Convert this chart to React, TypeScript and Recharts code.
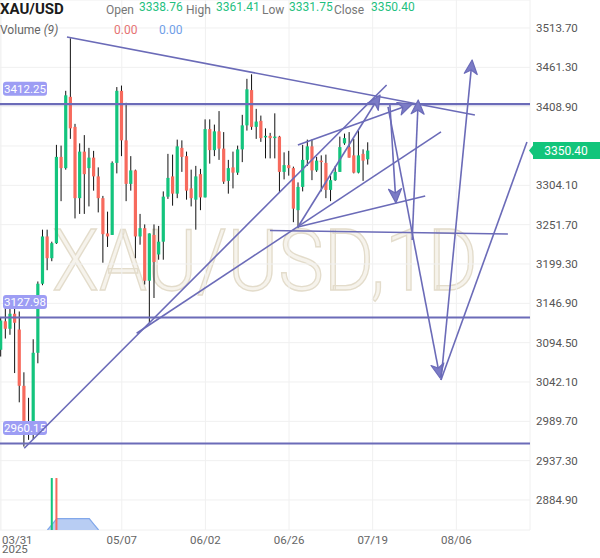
import React from "react";
import { ComposedChart, Bar, Area, XAxis, YAxis, CartesianGrid, ReferenceLine } from "recharts";

const UP = "#13C47D";
const DOWN = "#F76A5D";
const DRAW = "#6B6BB8";
const FONT = "Roboto, 'Open Sans', sans-serif";

// daily candles, 03/31 .. 07/18 (one extra weekend bar before 07/14)
const open = [
  3085, 3123, 3113, 3133, 3112, 3037, 2985, 2985, 3081, 3173,
  3236, 3207, 3227, 3342, 3327, 3422, 3382, 3287, 3349, 3327,
  3341, 3316, 3287, 3240, 3238, 3334, 3430, 3364, 3306, 3324,
  3236, 3247, 3177, 3238, 3212, 3229, 3289, 3316, 3293, 3354,
  3343, 3300, 3285, 3319, 3288, 3379, 3351, 3376, 3353, 3310,
  3328, 3321, 3352, 3384, 3431, 3382, 3390, 3368, 3370, 3367,
  3369, 3322, 3331, 3327, 3271, 3302, 3338, 3356, 3324, 3337,
  3334, 3298, 3311, 3322, 3360, 3355, 3344, 3321, 3346, 3338.76,
];
const high = [
  3128, 3149, 3148, 3142, 3136, 3055, 3021, 3099, 3176, 3245,
  3245, 3229, 3358, 3357, 3430, 3500, 3386, 3360, 3371, 3354,
  3350, 3328, 3290, 3269, 3336, 3435, 3437, 3414, 3343, 3325,
  3266, 3252, 3240, 3252, 3250, 3296, 3346, 3345, 3365, 3364,
  3349, 3325, 3330, 3326, 3392, 3392, 3385, 3403, 3375, 3338,
  3349, 3357, 3398, 3446, 3452, 3406, 3397, 3380, 3374, 3400,
  3370, 3348, 3350, 3329, 3308, 3358, 3365, 3365, 3342, 3344,
  3345, 3317, 3330, 3369, 3373, 3375, 3366, 3377, 3352, 3361.41,
];
const low = [
  3076, 3100, 3105, 3054, 3015, 2956, 2965, 2966, 3067, 3171,
  3191, 3203, 3226, 3283, 3325, 3366, 3260, 3266, 3266, 3276,
  3297, 3268, 3201, 3222, 3238, 3320, 3343, 3283, 3297, 3207,
  3225, 3172, 3121, 3154, 3205, 3205, 3286, 3277, 3287, 3322,
  3285, 3276, 3245, 3271, 3288, 3333, 3343, 3338, 3306, 3293,
  3300, 3318, 3335, 3377, 3378, 3366, 3362, 3340, 3340, 3340,
  3295, 3312, 3317, 3255, 3247, 3296, 3330, 3311, 3322, 3296,
  3287, 3283, 3310, 3322, 3358, 3341, 3320, 3320, 3310, 3331.75,
];
const close = [
  3124, 3113, 3133, 3121, 3037, 2985, 2982, 3081, 3173, 3236,
  3207, 3227, 3342, 3327, 3424, 3380, 3287, 3349, 3319, 3341,
  3316, 3287, 3239, 3236, 3334, 3430, 3364, 3306, 3324, 3236,
  3247, 3177, 3240, 3202, 3229, 3289, 3314, 3293, 3356, 3342,
  3297, 3287, 3316, 3288, 3379, 3351, 3376, 3353, 3309, 3327,
  3321, 3352, 3384, 3432, 3382, 3389, 3367, 3370, 3367, 3369,
  3322, 3331, 3327, 3273, 3302, 3338, 3356, 3324, 3337, 3335,
  3298, 3311, 3322, 3355, 3367, 3341, 3321, 3344, 3337, 3350.4,
];

const volumeIndex = [11, 12];
const volumeValue = [1, 1];
const volumeUp = [true, false];
const volumeMaIndex = [10, 11, 12, 13, 14, 15, 16, 17, 18, 19, 20, 21];
const volumeMaValue = [0, 0.11, 0.22, 0.22, 0.22, 0.22, 0.22, 0.22, 0.22, 0.22, 0.11, 0];

const priceTicks = [2884.9, 2937.3, 2989.7, 3042.1, 3094.5, 3146.9, 3199.3, 3251.7, 3304.1, 3356.5, 3408.9, 3461.3, 3513.7];
const dateTickIndex = [0, 26, 44, 62, 80, 98];
const dateTickLabels = ["03/31", "05/07", "06/02", "06/26", "07/19", "08/06"];

const levels = [3412.25, 3127.98, 2960.15];

// drawings: [index1, price1, index2, price2, arrowhead]
const drawings: [number, number, number, number, boolean][] = [
  [14.2, 3501.7, 102.0, 3397.8, false],
  [5.0, 2953.8, 83.0, 3437.8, false],
  [29.2, 3107.0, 94.7, 3375.2, false],
  [57.9, 3243.9, 109.1, 3239.3, false],
  [63.9, 3248.6, 81.6, 3424.4, true],
  [63.9, 3357.8, 88.5, 3412.5, true],
  [63.9, 3248.6, 91.3, 3289.9, false],
  [83.7, 3411.1, 85.0, 3280.6, true],
  [88.5, 3231.3, 89.8, 3417.8, true],
  [83.3, 3408.5, 94.5, 3047.4, true],
  [94.7, 3044.7, 101.4, 3471.1, true],
  [94.7, 3044.7, 113.2, 3361.8, false],
];

const X_DOMAIN: [number, number] = [-0.215, 113.86];
const Y_DOMAIN: [number, number] = [2844.9, 3551.0];
const PLOT_H = 530;
const priceY = (p: number) => ((Y_DOMAIN[1] - p) / (Y_DOMAIN[1] - Y_DOMAIN[0])) * PLOT_H;

const rows = open.map((o, i) => {
  const vi = volumeIndex.indexOf(i);
  const mi = volumeMaIndex.indexOf(i);
  return {
    i,
    o,
    h: high[i],
    l: low[i],
    c: close[i],
    range: [low[i], high[i]],
    vol: vi >= 0 ? volumeValue[vi] : undefined,
    volUp: vi >= 0 ? volumeUp[vi] : true,
    volMa: mi >= 0 ? volumeMaValue[mi] : null,
  };
});

function Candle(props: any) {
  const { x, y, width, height, payload } = props;
  if (x == null || payload == null) return null;
  const cx = x + width / 2;
  const top = Math.min(y, y + height);
  const full = Math.abs(height);
  const span = payload.h - payload.l || 1;
  const at = (v: number) => top + ((payload.h - v) / span) * full;
  const yo = at(payload.o);
  const yc = at(payload.c);
  const color = payload.c >= payload.o ? UP : DOWN;
  return (
    <g>
      <line x1={cx} x2={cx} y1={top} y2={top + full} stroke="#111" strokeWidth={1} />
      <rect x={cx - 1.6} y={Math.min(yo, yc)} width={3.2} height={Math.max(Math.abs(yo - yc), 1)} fill={color} />
    </g>
  );
}

function VolumeBar(props: any) {
  const { x, y, width, height, payload } = props;
  if (!height || payload == null) return null;
  const cx = x + width / 2;
  return <rect x={cx - 1} y={Math.min(y, y + height)} width={2} height={Math.abs(height)} fill={payload.volUp ? UP : DOWN} />;
}

function arrowShape(withHead: boolean) {
  return (p: any) => {
    const { x1, y1, x2, y2 } = p;
    if (!withHead) return <line x1={x1} y1={y1} x2={x2} y2={y2} stroke={DRAW} strokeWidth={1.6} />;
    const len = Math.hypot(x2 - x1, y2 - y1) || 1;
    const ux = (x2 - x1) / len;
    const uy = (y2 - y1) / len;
    const L = 14;
    const w = 6.5;
    const bx = x2 - ux * L;
    const by = y2 - uy * L;
    const pts = `${x2},${y2} ${bx - uy * w},${by + ux * w} ${bx + ux * 4},${by + uy * 4} ${bx + uy * w},${by - ux * w}`;
    return (
      <g>
        <line x1={x1} y1={y1} x2={bx + ux * 4} y2={by + uy * 4} stroke={DRAW} strokeWidth={1.6} />
        <polygon points={pts} fill="#7b7bc6" stroke={DRAW} strokeWidth={1.2} strokeLinejoin="round" />
      </g>
    );
  };
}

function LevelBadge(props: any) {
  const { viewBox, text } = props;
  if (!viewBox) return null;
  const cy = viewBox.y - 15.5;
  return (
    <g>
      <rect x={3} y={cy - 7} width={44} height={14} rx={3} fill="#9d9df4" />
      <text x={25} y={cy + 4.2} textAnchor="middle" fontSize={11.5} fill="#fff" fontFamily={FONT}>
        {text}
      </text>
    </g>
  );
}

function DateTick(props: any) {
  const { x, payload } = props;
  const k = dateTickIndex.indexOf(payload.value);
  if (k < 0) return null;
  if (k === 0) {
    return (
      <g fontFamily={FONT} fontSize={11.5} fill="#666">
        <text x={x + 1} y={543.5} textAnchor="start">{dateTickLabels[k]}</text>
        <text x={x + 1} y={553} textAnchor="start">2025</text>
      </g>
    );
  }
  return (
    <text x={x} y={543.5} textAnchor="middle" fontFamily={FONT} fontSize={11.5} fill="#666">
      {dateTickLabels[k]}
    </text>
  );
}

function PriceTick(props: any) {
  const { y, payload } = props;
  return (
    <text x={536} y={y + 4} fontFamily={FONT} fontSize={11.5} fill="#555">
      {payload.value.toFixed(2)}
    </text>
  );
}

const headerLabels = ["Open", "High", "Low", "Close"];
const headerValues = [open[79], high[79], low[79], close[79]];
const headerLabelX = [106, 186, 262, 334];
const headerValueX = [139, 216, 289, 371];

export default function App() {
  const badgeY = priceY(close[79]);
  return (
    <div style={{ position: "absolute", left: 0, top: 0, width: 600, height: 558, background: "#fff", overflow: "hidden" }}>
      <svg width={600} height={558} style={{ position: "absolute", left: 0, top: 0 }}>
        <text
          x={52}
          y={290}
          fontFamily={FONT}
          fontSize={86}
          fontWeight={300}
          fill="#f6f3ec"
          stroke="#e3dccb"
          strokeWidth={1.4}
          textLength={426}
          lengthAdjust="spacingAndGlyphs"
        >
          XAU/USD,1D
        </text>
      </svg>
      <div style={{ position: "absolute", left: 0, top: 0 }}>
        <ComposedChart width={600} height={558} data={rows} margin={{ top: 0, right: 0, bottom: 0, left: 0 }}>
          <CartesianGrid stroke="#f0f0f0" strokeWidth={1} />
          <XAxis
            dataKey="i"
            type="number"
            domain={X_DOMAIN}
            allowDataOverflow
            ticks={dateTickIndex}
            interval={0}
            height={28}
            axisLine={false}
            tickLine={false}
            tick={<DateTick />}
          />
          <XAxis xAxisId="v" dataKey="i" type="number" domain={X_DOMAIN} allowDataOverflow hide />
          <YAxis
            orientation="right"
            type="number"
            domain={Y_DOMAIN}
            allowDataOverflow
            ticks={priceTicks}
            interval={0}
            width={70}
            axisLine={false}
            tickLine={false}
            tick={<PriceTick />}
          />
          <YAxis yAxisId="vol" type="number" domain={[0, 10.2]} allowDataOverflow hide />
          <Area
            xAxisId="v"
            yAxisId="vol"
            dataKey="volMa"
            type="linear"
            stroke="#82a8ea"
            strokeWidth={1.2}
            fill="#b8cdf3"
            fillOpacity={1}
            connectNulls={false}
            isAnimationActive={false}
          />
          <Bar xAxisId="v" yAxisId="vol" dataKey="vol" barSize={2} shape={<VolumeBar />} isAnimationActive={false} />
          <Bar dataKey="range" barSize={4} shape={<Candle />} isAnimationActive={false} />
          {levels.map((lv) => (
            <ReferenceLine key={lv} y={lv} stroke={DRAW} strokeWidth={2.2} label={<LevelBadge text={lv.toFixed(2)} />} />
          ))}
          {drawings.map((d, k) => (
            <ReferenceLine
              key={k}
              segment={[{ x: d[0], y: d[1] }, { x: d[2], y: d[3] }]}
              ifOverflow="visible"
              stroke={DRAW}
              shape={arrowShape(d[4])}
            />
          ))}
        </ComposedChart>
      </div>
      <svg width={600} height={558} style={{ position: "absolute", left: 0, top: 0, pointerEvents: "none" }} fontFamily={FONT}>
        <text x={0} y={14} fontSize={15} fontWeight={700} fill="#1b1b1b">XAU/USD</text>
        {headerLabels.map((t, k) => (
          <text key={t} x={headerLabelX[k]} y={14} fontSize={12} fill="#777">{t}</text>
        ))}
        {headerValues.map((v, k) => (
          <text key={k} x={headerValueX[k]} y={11} fontSize={12} fill="#1fbf7f">{v.toFixed(2)}</text>
        ))}
        <text x={0} y={34.3} fontSize={12} fill="#666">
          Volume <tspan fontStyle="italic">(9)</tspan>
        </text>
        <text x={114} y={33.5} fontSize={12} fill="#e57373">0.00</text>
        <text x={159} y={33.5} fontSize={12} fill="#6f9ee8">0.00</text>
        <path
          d={`M529,${badgeY} L533,${badgeY - 5} L533,${badgeY - 8.5} L600,${badgeY - 8.5} L600,${badgeY + 8.5} L533,${badgeY + 8.5} L533,${badgeY + 5} Z`}
          fill="#12C57B"
        />
        <text x={566} y={badgeY + 4.3} textAnchor="middle" fontSize={12} fill="#fff">
          {close[79].toFixed(2)}
        </text>
      </svg>
    </div>
  );
}
